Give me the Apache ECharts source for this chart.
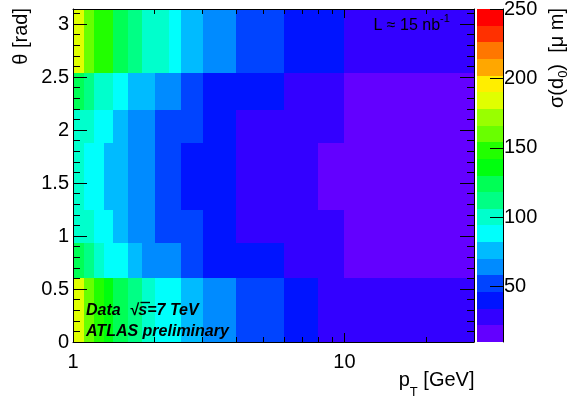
<!DOCTYPE html>
<html>
<head>
<meta charset="utf-8">
<script src="https://cdn.jsdelivr.net/npm/echarts@6/dist/echarts.min.js"></script>
<style>
  html, body { margin: 0; padding: 0; background: #ffffff; }
  #chart { width: 575px; height: 398px; }
</style>
</head>
<body>
<div id="chart"></div>
<script>
// Bin edges of the 2D histogram (pT in GeV, theta in rad)
const ptEdges = [1, 1.1, 1.2, 1.3, 1.4, 1.6, 1.8, 2.0, 2.25, 2.5, 3, 4, 6, 8, 10, 30];
const thetaEdges = [0, 0.6, 0.93, 1.25, 1.88, 2.19, 2.54, Math.PI];

// sigma(d0) in micrometres: one row per theta bin (bottom to top), one entry per pT bin
const sigmaTheta0 = [185, 160, 147, 135, 125, 113, 101, 90, 86, 76, 63, 51, 40, 30, 25];
const sigmaTheta1 = [122, 110, 99, 90, 85, 75, 66, 62, 59, 50, 41, 36, 29, 25, 18];
const sigmaTheta2 = [103, 96, 91, 84, 74, 66, 60, 56, 52, 48, 39, 31, 26, 23, 17];
const sigmaTheta3 = [97, 90, 84, 79, 72, 64, 59, 55, 49, 44, 37, 30, 24, 21, 15];
const sigmaTheta4 = [104, 97, 92, 85, 75, 67, 61, 57, 53, 49, 40, 32, 27, 23, 17];
const sigmaTheta5 = [121, 109, 100, 95, 88, 78, 72, 66, 60, 51, 43, 37, 30, 25, 19];
const sigmaTheta6 = [183, 161, 151, 144, 126, 114, 104, 97, 89, 78, 65, 53, 44, 38, 29];

// Colour contour levels of the z axis
const zLevels = [10, 22, 34, 46, 58, 70, 82, 94, 106, 118, 130, 142, 154, 166, 178, 190, 202, 214, 226, 238, 250];

// Tick marks and labels
const ptMajorTicks = [1, 10];
const ptMinorTicks = [2, 3, 4, 5, 6, 7, 8, 9, 20];
const thetaMajorTicks = [0, 0.5, 1, 1.5, 2, 2.5, 3];
const thetaMinorTicks = [0.1, 0.2, 0.3, 0.4, 0.6, 0.7, 0.8, 0.9, 1.1, 1.2, 1.3, 1.4,
                         1.6, 1.7, 1.8, 1.9, 2.1, 2.2, 2.3, 2.4, 2.6, 2.7, 2.8, 2.9, 3.1];
const zTicks = [50, 100, 150, 200, 250];

// Rainbow palette: 50 hues from violet to red, sampled once per contour band
const paletteColors = zLevels.slice(0, -1).map(function (_, k) {
  const idx = Math.floor((k + 0.99) * 50 / (zLevels.length - 1));
  const hue = 280 - (idx + 1) * 5.6;
  return 'hsl(' + hue.toFixed(1) + ',100%,50%)';
});

const FONT = '"Liberation Sans", Arial, Helvetica, sans-serif';
const BLACK = '#000000';

const sigmaRows = [sigmaTheta0, sigmaTheta1, sigmaTheta2, sigmaTheta3, sigmaTheta4, sigmaTheta5, sigmaTheta6];
const binData = [];
sigmaRows.forEach(function (row, j) {
  row.forEach(function (v, i) {
    binData.push([ptEdges[i], ptEdges[i + 1], thetaEdges[j], thetaEdges[j + 1], v]);
  });
});

const bandData = [];
for (let k = 0; k < zLevels.length - 1; k++) {
  bandData.push([0, 1, zLevels[k], zLevels[k + 1], (zLevels[k] + zLevels[k + 1]) / 2]);
}

// Each item is a rectangle [xLow, xHigh, yLow, yHigh, value]
function renderBin(params, api) {
  const a = api.coord([api.value(0), api.value(3)]);
  const b = api.coord([api.value(1), api.value(2)]);
  const x0 = Math.round(a[0]), y0 = Math.round(a[1]);
  const x1 = Math.round(b[0]), y1 = Math.round(b[1]);
  return {
    type: 'rect',
    shape: { x: x0, y: y0, width: x1 - x0, height: y1 - y0 },
    style: { fill: api.visual('color'), stroke: null }
  };
}

function xAxisDef(position, ticks, len, showLine, showLabels) {
  return {
    type: 'log', logBase: 10, gridIndex: 0, position: position, min: 1, max: 30, z: 10,
    axisLine: { show: showLine, onZero: false, lineStyle: { color: BLACK, width: 1 } },
    axisTick: { show: true, inside: true, length: len, customValues: ticks, lineStyle: { color: BLACK, width: 1 } },
    axisLabel: showLabels
      ? { show: true, customValues: ticks, margin: 10, color: BLACK, fontSize: 20, fontFamily: FONT }
      : { show: false },
    splitLine: { show: false }, minorTick: { show: false }
  };
}

function yAxisDef(position, ticks, len, showLine, showLabels) {
  return {
    type: 'value', gridIndex: 0, position: position, min: 0, max: Math.PI, z: 10,
    axisLine: { show: showLine, onZero: false, lineStyle: { color: BLACK, width: 1 } },
    axisTick: { show: true, inside: true, length: len, customValues: ticks, lineStyle: { color: BLACK, width: 1 } },
    axisLabel: showLabels
      ? { show: true, customValues: ticks, margin: 4, color: BLACK, fontSize: 20, fontFamily: FONT }
      : { show: false },
    splitLine: { show: false }, minorTick: { show: false }
  };
}

const chart = echarts.init(document.getElementById('chart'), null, { renderer: 'canvas' });

chart.setOption({
  backgroundColor: '#ffffff',
  animation: false,
  grid: [
    { left: 73, top: 9, width: 401, height: 333, containLabel: false, outerBoundsMode: 'none' },
    { left: 477, top: 9, width: 26, height: 333, containLabel: false, outerBoundsMode: 'none' }
  ],
  xAxis: [
    xAxisDef('bottom', ptMajorTicks, 9, true, true),
    xAxisDef('bottom', ptMinorTicks, 5, false, false),
    xAxisDef('top', ptMajorTicks, 9, true, false),
    xAxisDef('top', ptMinorTicks, 5, false, false),
    { type: 'value', gridIndex: 1, min: 0, max: 1, show: false, splitLine: { show: false } }
  ],
  yAxis: [
    yAxisDef('left', thetaMajorTicks, 14, true, true),
    yAxisDef('left', thetaMinorTicks, 7, false, false),
    yAxisDef('right', thetaMajorTicks, 14, true, false),
    yAxisDef('right', thetaMinorTicks, 7, false, false),
    {
      type: 'value', gridIndex: 1, position: 'right', min: zLevels[0], max: zLevels[zLevels.length - 1], z: 10,
      axisLine: { show: true, onZero: false, lineStyle: { color: BLACK, width: 1 } },
      axisTick: { show: true, inside: true, length: 13, customValues: zTicks, lineStyle: { color: BLACK, width: 1 } },
      axisLabel: { show: true, customValues: zTicks, margin: 1, color: BLACK, fontSize: 20, fontFamily: FONT },
      splitLine: { show: false }
    }
  ],
  visualMap: {
    type: 'piecewise', show: false, dimension: 4, seriesIndex: [0, 1],
    pieces: paletteColors.map(function (c, k) {
      return { gte: zLevels[k], lt: zLevels[k + 1], color: c };
    })
  },
  series: [
    {
      type: 'custom', name: 'sigma_d0', xAxisIndex: 0, yAxisIndex: 0,
      renderItem: renderBin, data: binData,
      encode: { x: [0, 1], y: [2, 3] }, z: 2, silent: true
    },
    {
      type: 'custom', name: 'palette', xAxisIndex: 4, yAxisIndex: 4,
      renderItem: renderBin, data: bandData,
      encode: { x: [0, 1], y: [2, 3] }, z: 2, silent: true
    }
  ],
  graphic: [
    {
      type: 'text', x: 373.5, y: 25.5, z: 100,
      style: {
        text: '{m|L ≈ 15 nb}{s|-1}',
        align: 'left', textAlign: 'left', verticalAlign: 'middle', textVerticalAlign: 'middle',
        fill: BLACK,
        rich: {
          m: { fontSize: 16, fontFamily: FONT, fill: BLACK, lineHeight: 24 },
          s: { fontSize: 11, fontFamily: FONT, fill: BLACK, lineHeight: 24, verticalAlign: 'top' }
        }
      }
    },
    {
      type: 'text', x: 86, y: 310.5, z: 100,
      style: {
        text: 'Data  √s=7 TeV', font: 'italic bold 16px ' + FONT, fill: BLACK,
        align: 'left', textAlign: 'left', verticalAlign: 'middle', textVerticalAlign: 'middle'
      }
    },
    {
      type: 'line', z: 100,
      shape: { x1: 140.5, y1: 302.5, x2: 150, y2: 302.5 },
      style: { stroke: BLACK, lineWidth: 1.4 }
    },
    {
      type: 'text', x: 86, y: 331.5, z: 100,
      style: {
        text: 'ATLAS preliminary', font: 'italic bold 16px ' + FONT, fill: BLACK,
        align: 'left', textAlign: 'left', verticalAlign: 'middle', textVerticalAlign: 'middle'
      }
    },
    {
      type: 'text', x: 474.5, y: 380.6, z: 100,
      style: {
        text: '{m|p}{s|T}{m| [GeV]}',
        align: 'right', textAlign: 'right', verticalAlign: 'middle', textVerticalAlign: 'middle',
        fill: BLACK,
        rich: {
          m: { fontSize: 20, fontFamily: FONT, fill: BLACK, lineHeight: 37 },
          s: { fontSize: 13, fontFamily: FONT, fill: BLACK, lineHeight: 37, verticalAlign: 'bottom' }
        }
      }
    },
    {
      type: 'text', x: 21.6, y: 8, rotation: Math.PI / 2, z: 100,
      style: {
        text: 'θ [rad]', font: '20px ' + FONT, fill: BLACK,
        align: 'right', textAlign: 'right', verticalAlign: 'middle', textVerticalAlign: 'middle'
      }
    },
    {
      type: 'text', x: 557, y: 8, rotation: Math.PI / 2, z: 100,
      style: {
        text: '{m|σ(d}{s|0}{m|)  [μ m]}',
        align: 'right', textAlign: 'right', verticalAlign: 'middle', textVerticalAlign: 'middle',
        fill: BLACK,
        rich: {
          m: { fontSize: 20, fontFamily: FONT, fill: BLACK, lineHeight: 26 },
          s: { fontSize: 13, fontFamily: FONT, fill: BLACK, lineHeight: 26, verticalAlign: 'bottom' }
        }
      }
    }
  ]
});
</script>
</body>
</html>
